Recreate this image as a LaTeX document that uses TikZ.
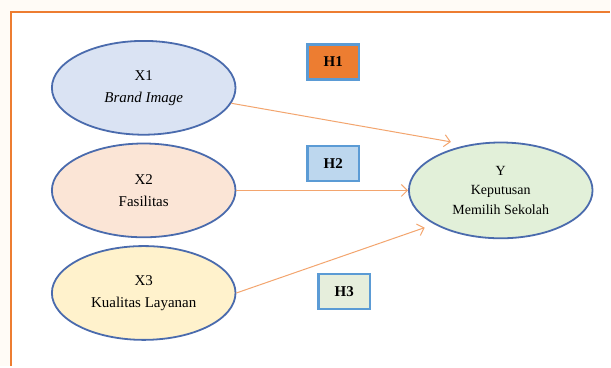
\documentclass[tikz,border=0pt]{standalone}
\usepackage{fontspec}
\setmainfont{Liberation Serif}
\usetikzlibrary{shapes.geometric, arrows.meta, positioning}
\definecolor{pagecream}{HTML}{FFFBF6}
\definecolor{frameorange}{HTML}{ED7D31}
\definecolor{edgeblue}{HTML}{4A6BAD}
\definecolor{boxedge}{HTML}{5B9BD5}
\definecolor{arrorange}{HTML}{F3A56E}
\definecolor{fillxone}{HTML}{DAE3F3}
\definecolor{fillxtwo}{HTML}{FBE5D6}
\definecolor{fillxthree}{HTML}{FFF2CC}
\definecolor{filly}{HTML}{E2F0D9}
\definecolor{fillhone}{HTML}{ED7D31}
\definecolor{fillhtwo}{HTML}{BDD7EE}
\definecolor{fillhthree}{HTML}{E6EEDC}

\begin{document}
\begin{tikzpicture}[x=1pt, y=-1pt,
      var/.style={ellipse, draw=edgeblue, line width=1.8pt, minimum width=184pt,
                  minimum height=94pt, inner sep=0pt, align=center,
                  font=\fontsize{15}{22}\selectfont},
      hbox/.style={rectangle, draw=boxedge, line width=2.4pt, minimum width=52pt,
                   minimum height=35pt, font=\fontsize{15}{15}\selectfont\bfseries},
      arr/.style={-{Straight Barb[length=6pt, width=12pt]}, line width=1pt, color=arrorange},
      node distance=7pt
    ]
    % page and frame
    \fill[pagecream] (0,0) rectangle (611,367);
    \fill[white] (11,12) rectangle (611,367);
    \draw[frameorange, line width=2.6pt] (11,367) -- (11,12) -- (611,12);
    \useasboundingbox (0,0) rectangle (611,367);

    \node[var, fill=fillxone] (x1) at (144,88) {X1\\\textit{Brand Image}};
    \node[var, fill=fillxtwo, below=of x1] (x2) {X2\\Fasilitas};
    \node[var, fill=fillxthree, below=of x2] (x3) {X3\\Kualitas Layanan};
    \node[var, fill=filly, right=172pt of x2, minimum height=96pt,
          font=\fontsize{14}{19.5}\selectfont] (y) {Y\\Keputusan\\Memilih Sekolah};

    \node[hbox, fill=fillhone]   (h1) at (334,62)  {H1};
    \node[hbox, fill=fillhtwo]   (h2) at (334,164) {H2};
    \node[hbox, fill=fillhthree] (h3) at (345,292) {H3};

    \draw[arr, shorten >=17pt] (x1.-10) -- (y.126);
    \draw[arr] (x2.east) -- (y.west);
    \draw[arr, shorten >=10pt] (x3.east) -- (y.207);
  \end{tikzpicture}
\end{document}
